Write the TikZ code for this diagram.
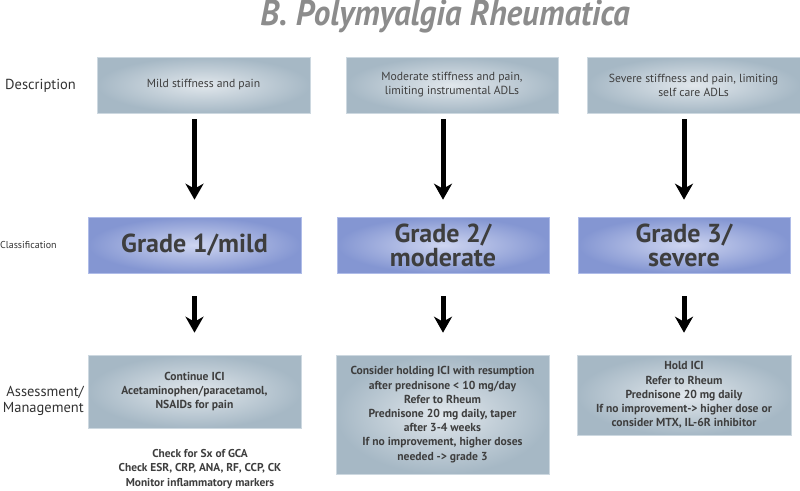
\documentclass[tikz,border=0pt]{standalone}
\usepackage{fontspec}
\setmainfont{PT Sans}
\usetikzlibrary{arrows.meta}
\definecolor{descin}{RGB}{225,231,236}
\definecolor{descout}{RGB}{166,184,197}
\definecolor{descedge}{RGB}{205,216,224}
\definecolor{clsin}{RGB}{206,213,240}
\definecolor{clsout}{RGB}{132,150,210}
\definecolor{clsedge}{RGB}{175,188,232}
\definecolor{txt}{RGB}{62,62,62}
\definecolor{lbl}{RGB}{50,50,50}
\definecolor{ttl}{RGB}{140,140,140}
\begin{document}
\begin{tikzpicture}[x=1pt,y=-1pt,
  greybox/.style={rectangle, inner sep=0pt, inner color=descin, outer color=descout,
    draw=descedge, line width=0.6pt, text=txt, align=center},
  descbox/.style={greybox, minimum height=56pt, font=\fontsize{11.7}{14}\selectfont},
  mgmtbox/.style={greybox, font=\fontsize{11.6}{14.2}\selectfont\bfseries},
  gradebox/.style={rectangle, inner sep=0pt, inner color=clsin, outer color=clsout,
    draw=clsedge, line width=0.6pt, text=txt, align=center, minimum height=56pt,
    font=\fontsize{26}{24}\selectfont\bfseries},
  rowlabel/.style={text=lbl, inner sep=0pt},
  bigarrow/.style={draw=black, line width=5pt, -{Stealth[length=16pt,width=18pt,inset=5pt]}}
]
\useasboundingbox (0,0) rectangle (800,490);

% title
\node[text=ttl, font=\fontsize{36}{36}\selectfont\bfseries\itshape] (title) at (445,17)
  {\scalebox{0.92}[1]{B. Polymyalgia Rheumatica}};

% row labels
\node[rowlabel, anchor=west, font=\fontsize{14.5}{16}\selectfont] (ldesc) at (5,86) {Description};
\node[rowlabel, anchor=west, font=\fontsize{10}{12}\selectfont] (lcls) at (0,245) {Classification};
\node[rowlabel, anchor=east, align=right, font=\fontsize{14.5}{16.5}\selectfont] (lmgmt) at (84,401) {Assessment/\\Management};

% description boxes
\node[descbox, minimum width=213pt] (d1) at (203.5,85) {Mild stiffness and pain};
\node[descbox, minimum width=212pt] (d2) at (452,85) {Moderate stiffness and pain,\\limiting instrumental ADLs};
\node[descbox, minimum width=213pt] (d3) at (693.5,85) {Severe stiffness and pain, limiting\\self care ADLs};

% grade boxes
\node[gradebox, minimum width=213pt] (c1) at (194.5,245) {Grade 1/mild};
\node[gradebox, minimum width=212pt] (c2) at (443,245) {Grade 2/\\moderate};
\node[gradebox, minimum width=212pt] (c3) at (684,245) {Grade 3/\\severe};

% management boxes
\node[mgmtbox, minimum width=213pt, minimum height=73pt] (a1) at (194.5,391.5)
  {Continue ICI\\Acetaminophen/paracetamol,\\NSAIDs for pain};
\node[mgmtbox, minimum width=213pt, minimum height=119pt] (a2) at (442.5,414.5)
  {Consider holding ICI with resumption\\after prednisone < 10 mg/day\\Refer to Rheum\\Prednisone 20 mg daily, taper\\after 3-4 weeks\\If no improvement, higher doses\\needed -> grade 3};
\node[mgmtbox, minimum width=214pt, minimum height=80pt] (a3) at (684,395)
  {Hold ICI\\Refer to Rheum\\Prednisone 20 mg daily\\If no improvement-> higher dose or\\consider MTX, IL-6R inhibitor};

% note under grade 1
\node[text=txt, align=center, inner sep=0pt, font=\fontsize{11.4}{14.2}\selectfont\bfseries] (note) at (200,469)
  {Check for Sx of GCA\\Check ESR, CRP, ANA, RF, CCP, CK\\Monitor inflammatory markers};

% arrows description -> grade
\coordinate (s1) at (c1.north |- d1.south);
\coordinate (s2) at (c2.north |- d2.south);
\coordinate (s3) at (c3.north |- d3.south);
\draw[bigarrow] ([yshift=-6pt]s1) -- ([yshift=17pt]c1.north);
\draw[bigarrow] ([yshift=-6pt]s2) -- ([yshift=17pt]c2.north);
\draw[bigarrow] ([yshift=-6pt]s3) -- ([yshift=17pt]c3.north);

% arrows grade -> management
\coordinate (t1) at (a1.north -| c1.south);
\coordinate (t2) at (a2.north -| c2.south);
\coordinate (t3) at (a3.north -| c3.south);
\draw[bigarrow] ([yshift=-23pt]c1.south) -- ([yshift=22pt]t1);
\draw[bigarrow] ([yshift=-23pt]c2.south) -- ([yshift=22pt]t2);
\draw[bigarrow] ([yshift=-23pt]c3.south) -- ([yshift=22pt]t3);
\end{tikzpicture}
\end{document}
